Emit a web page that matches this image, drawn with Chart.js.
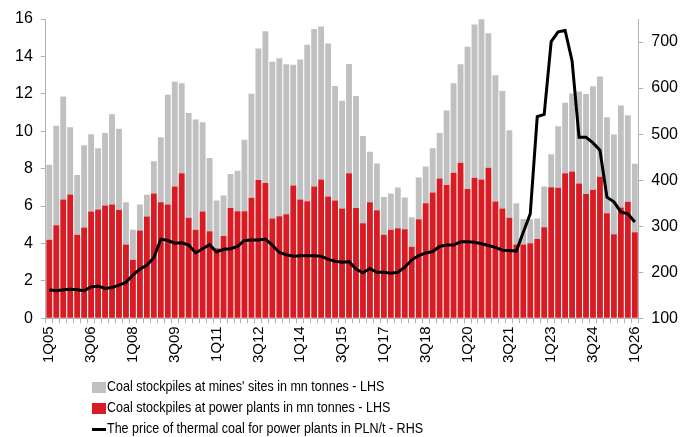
<html>
	<head>
		<meta charset="UTF-8">
		<title> Coal stockpiles </title>
		<style>
			body { margin:0; background:#fff; }
			#wrap { position:relative; width:692px; height:437px; }
			#legend { position:absolute; left:92px; top:375px; font-family:"Liberation Sans",Arial,sans-serif; font-size:15px; color:#000; }
			#legend div { height:21px; line-height:21px; white-space:nowrap; }
			#legend span.mk { display:inline-block; width:14px; vertical-align:middle; margin-right:1px; }
			#legend span.tx { display:inline-block; transform:scaleX(0.835); transform-origin:left center; }
		</style>
	</head>

	<body>
		<div id="wrap">
			<canvas id="coalChart" width="692" height="437"></canvas>
			<div id="legend"></div>
		</div>

		<script type="text/javascript" src="https://cdn.jsdelivr.net/npm/chart.js@4.4.1/dist/chart.umd.min.js"></script>

		<!-- Data -->
		<script>
			var quarters = [
				'1Q05','2Q05','3Q05','4Q05','1Q06','2Q06','3Q06','4Q06','1Q07','2Q07','3Q07','4Q07',
				'1Q08','2Q08','3Q08','4Q08','1Q09','2Q09','3Q09','4Q09','1Q10','2Q10','3Q10','4Q10',
				'1Q11','2Q11','3Q11','4Q11','1Q12','2Q12','3Q12','4Q12','1Q13','2Q13','3Q13','4Q13',
				'1Q14','2Q14','3Q14','4Q14','1Q15','2Q15','3Q15','4Q15','1Q16','2Q16','3Q16','4Q16',
				'1Q17','2Q17','3Q17','4Q17','1Q18','2Q18','3Q18','4Q18','1Q19','2Q19','3Q19','4Q19',
				'1Q20','2Q20','3Q20','4Q20','1Q21','2Q21','3Q21','4Q21','1Q22','2Q22','3Q22','4Q22',
				'1Q23','2Q23','3Q23','4Q23','1Q24','2Q24','3Q24','4Q24','1Q25','2Q25','3Q25','4Q25',
				'1Q26'
			];
			var tickLabels = ['1Q05','3Q06','1Q08','3Q09','1Q11','3Q12','1Q14','3Q15','1Q17','3Q18','1Q20','3Q21','1Q23','3Q24','1Q26'];

			// mn tonnes at power plants (LHS)
			var powerPlants = [
				4.20,4.97,6.35,6.62,4.47,4.85,5.71,5.81,6.03,6.08,5.80,3.94,
				3.13,4.70,5.44,6.67,6.21,6.08,7.05,7.76,5.38,4.74,5.71,4.65,
				3.75,4.40,5.89,5.72,5.72,6.44,7.39,7.23,5.33,5.46,5.56,7.10,
				6.35,6.26,7.05,7.42,6.51,6.30,5.87,7.76,5.89,5.08,6.21,5.78,
				4.47,4.74,4.81,4.76,3.83,5.30,6.15,6.73,7.48,7.12,7.78,8.32,
				6.91,7.51,7.42,8.05,6.24,5.87,5.38,3.94,3.95,4.01,4.24,4.87,
				7.01,6.98,7.75,7.85,7.21,6.65,6.87,7.57,5.62,4.49,5.92,6.23,
				4.60
			];
			// mn tonnes at mines' sites (LHS), stacked on top
			var mineSites = [
				4.01,5.33,5.51,3.59,3.19,4.40,4.13,3.28,3.88,4.83,4.33,2.27,
				1.61,1.38,1.16,1.72,3.47,5.87,5.60,4.80,5.60,5.89,4.77,3.92,
				2.55,2.17,1.82,2.17,3.83,5.56,7.03,8.12,8.39,8.44,8.02,6.46,
				7.48,8.36,8.42,8.18,8.18,6.12,5.76,5.84,5.99,4.67,2.70,2.50,
				2.02,1.93,2.18,1.70,1.57,2.23,1.97,2.36,2.43,3.99,4.78,5.26,
				7.60,8.20,8.57,7.19,6.75,6.28,4.67,2.21,1.36,1.29,1.09,2.18,
				1.76,3.29,3.77,4.17,4.92,5.34,5.53,5.36,5.13,5.33,5.46,4.63,
				3.66
			];
			// PLN/t (RHS)
			var coalPrice = [
				162,160,162,163,162,160,168,170,165,167,172,178,
				194,207,215,232,272,269,263,264,259,242,251,260,
				244,250,251,256,269,270,270,272,259,243,238,235,
				236,236,236,235,228,224,222,223,207,199,208,200,
				200,198,200,211,227,236,242,245,256,259,259,266,
				266,265,262,258,254,248,247,246,287,327,538,543,
				701,722,725,659,493,493,481,465,363,353,331,327,
				309
			];

			var seriesNames = [
				"Coal stockpiles at mines' sites in mn tonnes - LHS",
				"Coal stockpiles at power plants in mn tonnes - LHS",
				"The price of thermal coal for power plants in PLN/t - RHS"
			];
		</script>

		<!-- Chart Setup -->
		<script>
			var red = '#D91B24';
			var grey = '#C0C0C0';
			var axisC = '#B3B3B3';
			Chart.defaults.font.family = "'Liberation Sans', Arial, sans-serif";
			Chart.defaults.color = '#000';

			var ctx = document.getElementById('coalChart').getContext('2d');
			var coalChart = new Chart(ctx, {
				type: 'bar',
				data: {
					labels: quarters,
					datasets: [{
						type: 'line',
						label: seriesNames[2],
						data: coalPrice,
						yAxisID: 'y1',
						borderColor: '#000',
						borderWidth: 3,
						pointRadius: 0,
						tension: 0,
						order: 0
					}, {
						label: seriesNames[1],
						data: powerPlants,
						backgroundColor: red,
						stack: 's',
						yAxisID: 'y',
						order: 1
					}, {
						label: seriesNames[0],
						data: mineSites,
						backgroundColor: grey,
						stack: 's',
						yAxisID: 'y',
						order: 1
					}]
				},
				options: {
					responsive: false,
					animation: false,
					layout: { padding: { left: 7, right: 6, top: 19, bottom: 71 } },
					datasets: { bar: { categoryPercentage: 1, barPercentage: 0.84 } },
					plugins: { legend: { display: false }, tooltip: { enabled: false } },
					scales: {
						x: {
							stacked: true,
							grid: { offset: true, drawOnChartArea: false, color: axisC, tickLength: 5 },
							border: { color: axisC },
							ticks: {
								autoSkip: false, maxRotation: 90, minRotation: 90, padding: 3,
								font: { size: 15 },
								callback: function(v, i) {
									var l = quarters[i];
									return tickLabels.indexOf(l) >= 0 ? l : '';
								}
							}
						},
						y: {
							stacked: true, min: 0, max: 16,
							grid: { drawOnChartArea: false, color: axisC, tickLength: 5 },
							border: { color: axisC },
							ticks: { stepSize: 2, padding: 8, font: { size: 16 } }
						},
						y1: {
							position: 'right', min: 100, max: 750,
							grid: { drawOnChartArea: false, color: axisC, tickLength: 5 },
							border: { color: axisC },
							ticks: { stepSize: 100, includeBounds: false, padding: 8, font: { size: 16 } }
						}
					}
				}
			});
		</script>
		<!-- Legend -->
		<script>
			var legendItems = [
				{ name: seriesNames[0], color: grey, h: 11 },
				{ name: seriesNames[1], color: red, h: 11 },
				{ name: seriesNames[2], color: '#000', h: 3 }
			];
			var html = '';
			legendItems.forEach(function(it) {
				html += '<div><span class="mk" style="height:' + it.h + 'px;background:' + it.color + '"></span><span class="tx">' + it.name + '</span></div>';
			});
			document.getElementById('legend').innerHTML = html;
		</script>
	</body>
</html>
